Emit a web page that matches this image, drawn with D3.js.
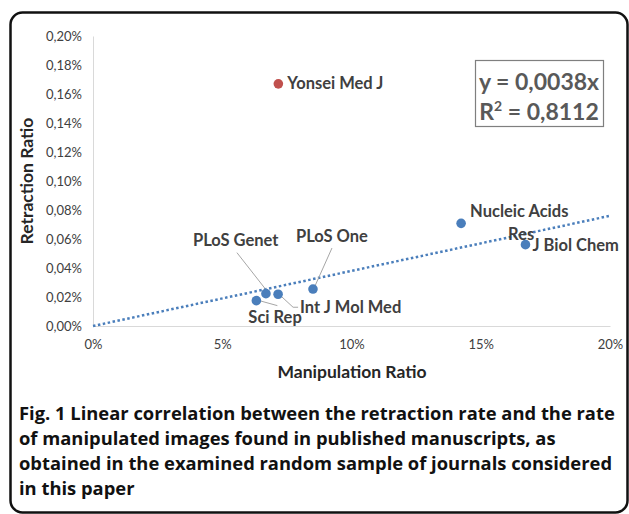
<!DOCTYPE html>
<html>
<head>
<meta charset="utf-8">
<script src="https://cdn.jsdelivr.net/npm/d3@7"></script>
<style>
  body { margin: 0; background: #fff; }
  svg text { font-family: Lato, "Open Sans", sans-serif; }
</style>
</head>
<body>
<div id="chart"></div>
<script>
// data
var journals = ["Yonsei Med J", "Nucleic Acids Res", "J Biol Chem", "PLoS One", "PLoS Genet", "Int J Mol Med", "Sci Rep"];
var manipRatio = [0.0717, 0.1424, 0.1673, 0.0851, 0.0669, 0.0716, 0.0632];
var retractRatio = [0.00167, 0.000708, 0.000561, 0.000255, 0.000223, 0.000219, 0.000175];
var slope = 0.0038;
var xTicks = [0, 0.05, 0.10, 0.15, 0.20];
var yTicks = [0, 0.0002, 0.0004, 0.0006, 0.0008, 0.0010, 0.0012, 0.0014, 0.0016, 0.0018, 0.0020];
var captionLines = [
  "Fig. 1 Linear correlation between the retraction rate and the rate",
  "of manipulated images found in published manuscripts, as",
  "obtained in the examined random sample of journals considered",
  "in this paper"
];

// label placement (offsets from the point), leader lines
var labelLayout = {
  "Yonsei Med J": {lines: [["Yonsei Med J", 9, 5]]},
  "Nucleic Acids Res": {lines: [["Nucleic Acids", 9, -6], ["Res", 47, 17]]},
  "J Biol Chem": {lines: [["J Biol Chem", 7, 6]]},
  "PLoS One": {lines: [["PLoS One", -17, -47]], leader: [[19, -41], [2, -3]]},
  "PLoS Genet": {lines: [["PLoS Genet", -73, -48]], leader: [[-29, -41], [0, -4]]},
  "Int J Mol Med": {lines: [["Int J Mol Med", 22, 19]], leader: [[2, 1], [15, 13], [20, 13]]},
  "Sci Rep": {lines: [["Sci Rep", -8, 22]], leader: [[3, 0], [21, 5]]}
};

var W = 629, H = 514;
var svg = d3.select("#chart").append("svg")
    .attr("width", W)
    .attr("height", H);

// frame
svg.append("rect")
    .attr("x", 10.5).attr("y", 12.5)
    .attr("width", 617).attr("height", 500)
    .attr("rx", 12)
    .attr("fill", "none")
    .attr("stroke", "#111")
    .attr("stroke-width", 2.5);

var x = d3.scaleLinear().domain([0, 0.2]).range([93, 610]);
var y = d3.scaleLinear().domain([0, 0.002]).range([326, 36]);

var pct = function(d, dec) { return d3.format("." + dec + "%")(d).replace(".", ","); };

// axes
var xAxis = svg.append("g")
    .attr("transform", "translate(0," + y(0) + ")")
    .call(d3.axisBottom(x).tickValues(xTicks).tickSize(0).tickPadding(14)
        .tickFormat(function(d) { return pct(d, 0); }));
var yAxis = svg.append("g")
    .attr("transform", "translate(" + x(0) + ",0)")
    .call(d3.axisLeft(y).tickValues(yTicks).tickSize(0).tickPadding(11)
        .tickFormat(function(d) { return pct(d, 2); }));
[xAxis, yAxis].forEach(function(a) {
  a.select(".domain").attr("stroke", "#d9d9d9").attr("stroke-width", 1);
  a.selectAll("text").attr("fill", "#404040").attr("font-size", 13)
      .style("font-family", "Lato, sans-serif");
});

// axis titles
svg.append("text")
    .attr("x", 352).attr("y", 378)
    .attr("text-anchor", "middle")
    .attr("font-size", 17.5).attr("font-weight", "bold").attr("fill", "#262626")
    .text("Manipulation Ratio");
svg.append("text")
    .attr("transform", "translate(33,181) rotate(-90)")
    .attr("text-anchor", "middle")
    .attr("font-size", 17.5).attr("font-weight", "bold").attr("fill", "#262626")
    .text("Retraction Ratio");

// trendline
svg.append("line")
    .attr("x1", x(0)).attr("y1", y(0))
    .attr("x2", x(0.2)).attr("y2", y(slope * 0.2))
    .attr("stroke", "#4a7ebb")
    .attr("stroke-width", 2.5)
    .attr("stroke-dasharray", "2.5 2.5");

var pts = journals.map(function(n, i) {
  return {name: n, mx: manipRatio[i], ry: retractRatio[i]};
});

// leader lines
pts.forEach(function(p) {
  var L = labelLayout[p.name].leader;
  if (!L) return;
  var px = x(p.mx), py = y(p.ry);
  svg.append("path")
      .attr("d", d3.line()(L.map(function(o) { return [px + o[0], py + o[1]]; })))
      .attr("fill", "none")
      .attr("stroke", "#a6a6a6")
      .attr("stroke-width", 1);
});

// points
svg.selectAll(".pt").data(pts).enter().append("circle")
    .attr("class", "pt")
    .attr("cx", function(d) { return x(d.mx); })
    .attr("cy", function(d) { return y(d.ry); })
    .attr("r", 4.8)
    .attr("fill", function(d, i) { return i === 0 ? "#c0504d" : "#4a7ebb"; });

// labels
pts.forEach(function(p) {
  var px = x(p.mx), py = y(p.ry);
  labelLayout[p.name].lines.forEach(function(l) {
    svg.append("text")
        .attr("x", px + l[1]).attr("y", py + l[2])
        .attr("font-size", 16.5).attr("font-weight", "bold").attr("fill", "#404040")
        .text(l[0]);
  });
});

// equation box
svg.append("rect")
    .attr("x", 475.5).attr("y", 60.5)
    .attr("width", 128).attr("height", 66)
    .attr("fill", "#fff")
    .attr("stroke", "#7f7f7f")
    .attr("stroke-width", 1.2);
var eq = svg.append("g").attr("font-size", 23).attr("font-weight", "bold").attr("fill", "#595959");
eq.append("text").attr("x", 539).attr("y", 90).attr("text-anchor", "middle")
    .text("y = " + String(slope).replace(".", ",") + "x");
var r2 = eq.append("text").attr("x", 539).attr("y", 120).attr("text-anchor", "middle");
r2.append("tspan").text("R");
r2.append("tspan").attr("font-size", 14).attr("dy", -9).text("2");
r2.append("tspan").attr("dy", 9).text(" = 0,8112");

// caption
var cap = svg.append("g").attr("font-weight", "bold").attr("fill", "#111");
var probe = cap.append("text").attr("font-size", 18).style("font-family", "'Open Sans', sans-serif").text(captionLines[0]);
var fs = 18 * 596 / probe.node().getComputedTextLength();
probe.remove();
captionLines.forEach(function(t, i) {
  cap.append("text")
      .attr("x", 19).attr("y", 420 + i * 25)
      .attr("font-size", fs)
      .style("font-family", "'Open Sans', sans-serif")
      .text(t);
});
</script>
</body>
</html>
